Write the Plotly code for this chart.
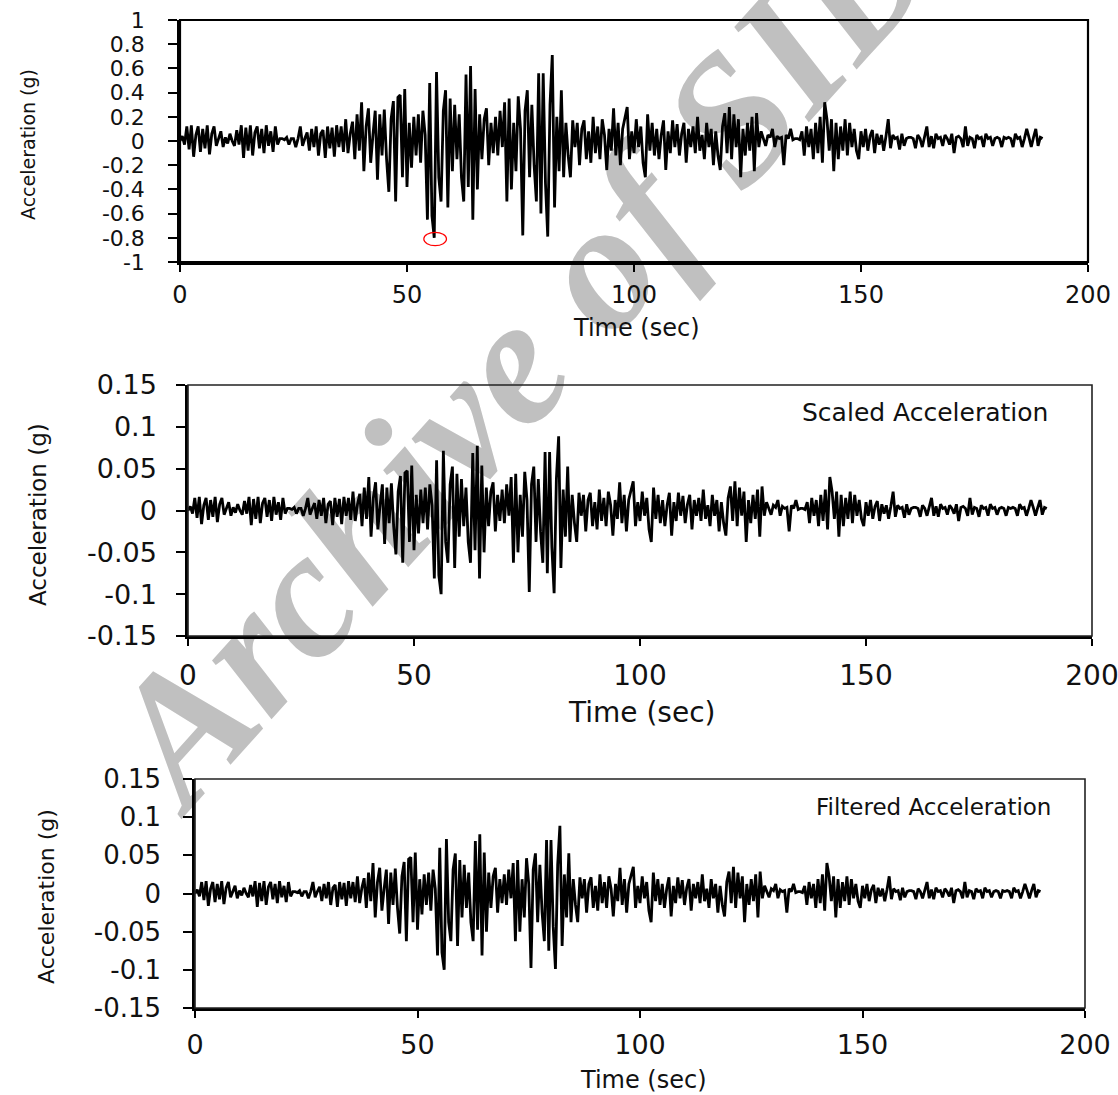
import plotly.graph_objects as go

W, H = 1118, 1095

# ---------------- data ----------------
sample_step_s = 0.5
acc_g = [
    0.00, 0.04, -0.03, 0.12, -0.07, 0.13, -0.13, 0.05, 0.12, -0.09,
    0.10, -0.06, 0.13, -0.11, 0.06, 0.12, -0.04, 0.02, 0.08, -0.05,
    0.03, -0.02, 0.06, 0.00, -0.04, 0.09, -0.03, 0.13, -0.14, 0.11,
    -0.08, 0.13, -0.12, 0.07, 0.12, -0.06, 0.10, -0.10, 0.13, -0.04,
    0.08, -0.09, 0.12, -0.03, 0.02, 0.02, 0.01, 0.03, -0.03, 0.02,
    0.02, -0.05, 0.02, 0.12, -0.04, 0.02, 0.07, -0.08, 0.10, -0.05,
    0.12, -0.12, 0.06, 0.09, -0.14, 0.12, -0.06, 0.11, -0.13, 0.13,
    -0.05, 0.12, -0.09, 0.18, -0.10, 0.06, 0.16, -0.15, 0.22, -0.08,
    0.32, -0.25, 0.12, 0.27, -0.18, 0.05, 0.25, -0.32, 0.22, -0.12,
    0.26, -0.15, -0.42, 0.18, 0.33, -0.50, 0.36, 0.38, -0.30, 0.43,
    -0.38, 0.15, -0.22, 0.20, -0.12, 0.22, -0.18, 0.25, 0.05, -0.65,
    0.48, -0.62, -0.80, 0.57, -0.30, -0.50, 0.25, 0.42, -0.55, 0.35,
    -0.25, 0.30, -0.15, 0.22, -0.30, -0.50, 0.55, -0.38, 0.62, -0.65,
    0.43, -0.40, 0.22, -0.15, 0.18, 0.27, -0.20, 0.15, -0.10, 0.20,
    -0.12, 0.25, -0.05, 0.32, -0.50, 0.35, -0.40, 0.15, -0.25, 0.37,
    0.10, -0.78, 0.25, 0.42, -0.30, 0.30, -0.20, -0.50, 0.56, -0.60,
    0.56, -0.35, -0.79, 0.30, 0.71, -0.55, 0.20, -0.25, 0.42, -0.30,
    0.15, -0.12, -0.30, 0.17, -0.05, 0.15, -0.20, 0.10, 0.17, -0.15,
    0.08, -0.18, 0.20, -0.10, 0.12, -0.15, 0.18, 0.05, -0.24, 0.10,
    -0.08, 0.27, -0.12, 0.15, -0.20, 0.10, 0.20, 0.28, -0.15, 0.08,
    -0.10, 0.18, -0.05, 0.12, -0.18, -0.30, 0.22, -0.08, 0.15, -0.12,
    0.10, -0.15, 0.05, 0.17, -0.24, 0.08, -0.10, 0.17, -0.05, 0.14,
    -0.12, 0.06, 0.15, -0.18, 0.10, -0.05, 0.12, -0.10, 0.20, -0.08,
    0.05, -0.15, 0.15, -0.05, 0.10, -0.20, 0.08, -0.12, -0.24, 0.12,
    0.23, -0.10, 0.28, -0.15, 0.22, -0.05, 0.18, -0.30, 0.10, -0.12,
    0.15, -0.08, 0.20, -0.25, 0.23, -0.05, 0.08, 0.02, -0.04, 0.05,
    0.03, 0.10, -0.05, 0.04, 0.02, 0.03, -0.20, 0.05, 0.02, 0.10,
    0.01, 0.02, 0.02, 0.01, 0.08, -0.12, 0.12, -0.05, 0.10, -0.15,
    0.15, -0.10, 0.20, -0.18, 0.32, 0.18, -0.08, 0.18, -0.25, 0.15,
    -0.15, 0.12, -0.08, 0.18, -0.12, 0.15, -0.05, 0.10, -0.08, -0.15,
    0.08, -0.05, 0.10, -0.08, 0.04, 0.09, -0.10, 0.06, -0.03, 0.05,
    -0.08, 0.04, 0.18, -0.06, 0.05, 0.02, 0.03, -0.07, 0.06, -0.04,
    0.02, 0.03, 0.03, 0.02, -0.06, 0.05, 0.02, -0.05, 0.04, 0.12,
    -0.05, 0.04, -0.06, 0.06, 0.02, 0.03, -0.04, 0.05, 0.02, -0.03,
    0.06, -0.10, 0.03, 0.04, 0.02, -0.05, 0.12, -0.04, 0.03, 0.02,
    -0.06, 0.05, 0.02, 0.03, -0.05, 0.06, 0.02, 0.03, -0.04, 0.02,
    0.03, 0.02, -0.05, 0.03, 0.02, 0.03, 0.02, -0.05, 0.06, 0.02,
    0.03, -0.05, 0.02, 0.10, 0.03, -0.05, 0.03, 0.10, -0.04, 0.03,
    0.02,
]
time_s = [i * sample_step_s for i in range(len(acc_g))]

scale_factor = 0.125          # peak 0.8 g -> 0.1 g
scaled_acc_g = [v * scale_factor for v in acc_g]
filtered_acc_g = list(scaled_acc_g)   # filtered record is visually identical

x_tick_vals = [0, 50, 100, 150, 200]
x_tick_text = ["0", "50", "100", "150", "200"]
y1_tick_vals = [1, 0.8, 0.6, 0.4, 0.2, 0, -0.2, -0.4, -0.6, -0.8, -1]
y1_tick_text = ["1", "0.8", "0.6", "0.4", "0.2", "0", "-0.2", "-0.4", "-0.6", "-0.8", "-1"]
y2_tick_vals = [0.15, 0.1, 0.05, 0, -0.05, -0.1, -0.15]
y2_tick_text = ["0.15", "0.1", "0.05", "0", "-0.05", "-0.1", "-0.15"]

x_title = "Time (sec)"
y_title = "Acceleration (g)"
label_scaled = "Scaled Acceleration"
label_filtered = "Filtered Acceleration"
watermark = "Archive of SID"

# ---------------- layout helpers ----------------
def fx(p):
    return p / W

def fy(p):
    return 1 - p / H

FONT = "DejaVu Sans"

panels = [
    dict(series=acc_g, xd=(180, 1088), yd=(20, 262), yr=[-1, 1],
         yt=(y1_tick_vals, y1_tick_text), tfx=24, tfy=22, ystand=19, xstand=2),
    dict(series=scaled_acc_g, xd=(188, 1092), yd=(385, 636), yr=[-0.15, 0.15],
         yt=(y2_tick_vals, y2_tick_text), tfx=28, tfy=27, ystand=14, xstand=6),
    dict(series=filtered_acc_g, xd=(195, 1085), yd=(779, 1008), yr=[-0.15, 0.15],
         yt=(y2_tick_vals, y2_tick_text), tfx=27, tfy=26, ystand=17, xstand=4),
]

fig = go.Figure()
layout = dict(
    template="none",
    width=W, height=H, autosize=False,
    margin=dict(l=0, r=0, t=0, b=0, pad=0),
    paper_bgcolor="white", plot_bgcolor="rgba(0,0,0,0)",
    showlegend=False,
)

for i, p in enumerate(panels, start=1):
    xa = "xaxis" if i == 1 else f"xaxis{i}"
    ya = "yaxis" if i == 1 else f"yaxis{i}"
    xr = "x" if i == 1 else f"x{i}"
    yr_ = "y" if i == 1 else f"y{i}"
    fig.add_trace(go.Scatter(
        x=time_s, y=p["series"], mode="lines", xaxis=xr, yaxis=yr_,
        line=dict(color="black", width=2.8), hoverinfo="skip",
    ))
    layout[xa] = dict(
        domain=[fx(p["xd"][0]), fx(p["xd"][1])], anchor=yr_, range=[0, 200],
        tickvals=x_tick_vals, ticktext=x_tick_text, ticks="outside",
        ticklen=7, tickwidth=2, tickcolor="black", automargin=False,
        ticklabeloverflow="allow",
        showline=True, linewidth=2.5, linecolor="black",
        showgrid=False, zeroline=False, ticklabelstandoff=p["xstand"],
        tickfont=dict(family=FONT, size=p["tfx"], color="#111"),
    )
    layout[ya] = dict(
        domain=[fy(p["yd"][1]), fy(p["yd"][0])], anchor=xr, range=p["yr"],
        tickvals=p["yt"][0], ticktext=p["yt"][1], ticks="outside",
        ticklen=9, tickwidth=2, tickcolor="black", automargin=False,
        ticklabeloverflow="allow",
        showline=True, linewidth=2.5, linecolor="black",
        showgrid=False, zeroline=False, ticklabelstandoff=p["ystand"],
        tickfont=dict(family=FONT, size=p["tfy"], color="#111"),
    )

fig.update_layout(**layout)

# plot frames (top / right border)
for i in range(1, 4):
    xr = "x" if i == 1 else f"x{i}"
    yr_ = "y" if i == 1 else f"y{i}"
    fig.add_shape(type="rect", xref=f"{xr} domain", yref=f"{yr_} domain",
                  x0=0, x1=1, y0=0, y1=1,
                  line=dict(color="#222" if i > 1 else "black", width=1.6 if i > 1 else 2.2),
                  layer="above")

# watermark (below the data)
cx, cy = 506, 337
fig.add_shape(type="rect", xref="paper", yref="paper",
              x0=fx(cx) - 0.001, x1=fx(cx) + 0.001, y0=fy(cy) - 0.001, y1=fy(cy) + 0.001,
              line=dict(width=0), fillcolor="rgba(0,0,0,0)", layer="below",
              label=dict(text=watermark, textangle=-48, textposition="middle center",
                         font=dict(family="Liberation Serif", size=182, color="#c0c0c0",
                                   weight="bold", style="italic")))

ann = []
# y titles
for (xc, yc, fs) in [(28, 145, 19), (38, 515, 23), (46, 897, 22)]:
    ann.append(dict(text=y_title, x=fx(xc), y=fy(yc), xref="paper", yref="paper",
                    showarrow=False, textangle=-90, xanchor="center", yanchor="middle",
                    font=dict(family=FONT, size=fs, color="#111")))
# x titles
for (xc, yc, fs) in [(636, 328, 24), (641, 712, 28), (643, 1080, 24)]:
    ann.append(dict(text=x_title, x=fx(xc), y=fy(yc), xref="paper", yref="paper",
                    showarrow=False, xanchor="center", yanchor="middle",
                    font=dict(family=FONT, size=fs, color="#111")))
ann.append(dict(text=label_scaled, x=fx(1050), y=fy(413), xref="paper", yref="paper",
                showarrow=False, xanchor="right", yanchor="middle",
                font=dict(family=FONT, size=25, color="#111")))
ann.append(dict(text=label_filtered, x=fx(1053), y=fy(807), xref="paper", yref="paper",
                showarrow=False, xanchor="right", yanchor="middle",
                font=dict(family=FONT, size=23, color="#111")))
fig.update_layout(annotations=ann)

# red ellipse marking the peak value on the original record
peak_idx = min(range(len(acc_g)), key=lambda k: acc_g[k])
t_pk, a_pk = time_s[peak_idx] + 0.2, acc_g[peak_idx] - 0.01
fig.add_shape(type="circle", xref="x", yref="y",
              x0=t_pk - 2.5, x1=t_pk + 2.5, y0=a_pk - 0.055, y1=a_pk + 0.055,
              line=dict(color="red", width=1.2), layer="above")

fig.write_html("out.html")
